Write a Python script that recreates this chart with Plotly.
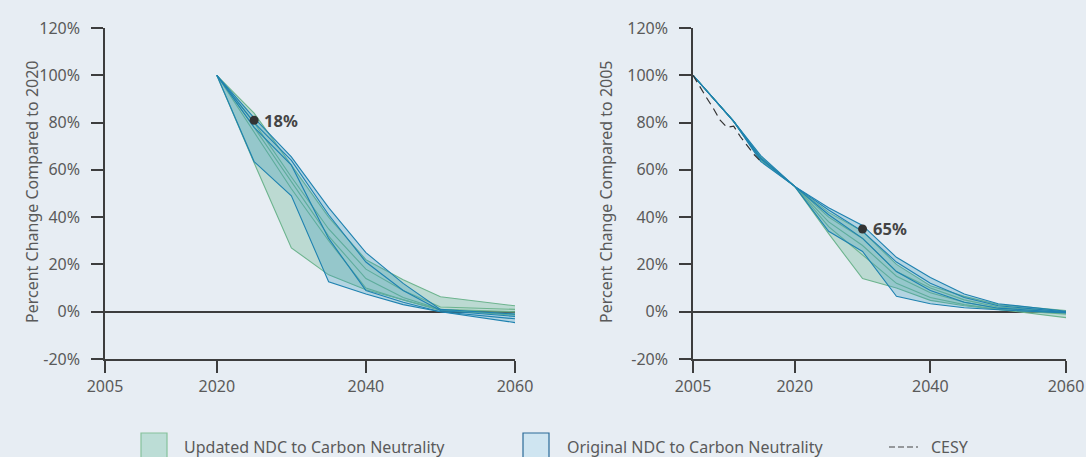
import numpy as np
import plotly.graph_objects as go

# ---------------- data ----------------
# Left panel: percent of 2020 emissions
years_left = [2020, 2025, 2030, 2035, 2040, 2045, 2050, 2060]
updated_left_1 = [100, 84, 62, 40, 22, 13.5, 6.3, 2.5]
updated_left_2 = [100, 80, 57, 35, 18, 9, 2, 1]
updated_left_3 = [100, 78, 55, 32, 14, 6, 1, 0]
updated_left_4 = [100, 76, 52, 30, 10, 5, 0.5, -1]
updated_left_5 = [100, 63, 27, 15.6, 9.3, 5, 0.8, -1.5]
original_left_1 = [100, 82, 65.5, 44, 25, 12, 1, -1]
original_left_2 = [100, 80, 64, 41, 21, 9, 0.5, -2]
original_left_3 = [100, 78, 62, 31, 9, 4, 0, -3]
original_left_4 = [100, 63.5, 49, 12.7, 7.5, 3, 0, -4.6]

# Right panel: percent of 2005 emissions
years_right = [2005, 2011, 2015, 2020, 2025, 2030, 2035, 2040, 2045, 2050, 2060]
updated_right_1 = [100, 80.5, 65.5, 53, 42, 34, 20, 11, 6.5, 3, 0.5]
updated_right_2 = [100, 80.5, 65, 53, 40, 31, 17, 10, 5, 2, 0]
updated_right_3 = [100, 80.5, 64.5, 53, 38, 28, 15, 8, 4, 1.5, -0.5]
updated_right_4 = [100, 80.5, 64, 53, 36, 24, 12, 6, 3, 1, -1]
updated_right_5 = [100, 80.5, 64, 53, 33, 14, 10, 4.8, 2.5, 1, -2.5]
original_right_1 = [100, 80.5, 66, 53, 44, 36.5, 23, 14.5, 7.5, 3.4, 0.2]
original_right_2 = [100, 80.5, 65, 53, 43, 34, 21, 12, 6, 2.5, 0]
original_right_3 = [100, 80.5, 64.5, 53, 41, 31, 17, 9, 4, 1.5, -0.3]
original_right_4 = [100, 80.5, 63.5, 53, 34, 25.5, 6.5, 3.4, 1.7, 0.8, -0.5]

cesy_years = [2005, 2006, 2007, 2008, 2009, 2010, 2011, 2012, 2013, 2014, 2015]
cesy_values = [100, 95, 90.5, 86, 81, 78, 78.5, 74, 70, 66.5, 63.5]

marker_left = (2025, 81, "18%")
marker_right = (2030, 35, "65%")

x_ticks = [2005, 2020, 2040, 2060]
y_ticks = [-20, 0, 20, 40, 60, 80, 100, 120]
y_tick_text = [f"{v}%" for v in y_ticks]

legend_labels = ["Updated NDC to Carbon Neutrality", "Original NDC to Carbon Neutrality", "CESY"]
y_titles = ["Percent Change Compared to 2020", "Percent Change Compared to 2005"]

# ---------------- style ----------------
BG = "#e7edf3"
GREEN_LINE = "#6db48e"
BLUE_LINE = "#1f82b0"
GREEN_FILL = "rgba(118,186,158,0.38)"
BLUE_FILL = "rgba(60,155,190,0.30)"
AXIS = "#3d3d3d"
TEXT = "#5a5a5a"
FONT = "Noto Sans"

fig = go.Figure()


def add_group(years, lines, fill, line_color, xa, ya):
    arr = np.array(lines, dtype=float)
    upper = arr.max(axis=0)
    lower = arr.min(axis=0)
    fig.add_trace(go.Scatter(x=years, y=upper, mode="lines", line=dict(width=0),
                             hoverinfo="skip", showlegend=False, xaxis=xa, yaxis=ya))
    fig.add_trace(go.Scatter(x=years, y=lower, mode="lines", line=dict(width=0),
                             fill="tonexty", fillcolor=fill,
                             hoverinfo="skip", showlegend=False, xaxis=xa, yaxis=ya))
    for ln in lines:
        fig.add_trace(go.Scatter(x=years, y=ln, mode="lines",
                                 line=dict(color=line_color, width=1.1),
                                 showlegend=False, xaxis=xa, yaxis=ya))


upd_left = [updated_left_1, updated_left_2, updated_left_3, updated_left_4, updated_left_5]
orig_left = [original_left_1, original_left_2, original_left_3, original_left_4]
upd_right = [updated_right_1, updated_right_2, updated_right_3, updated_right_4, updated_right_5]
orig_right = [original_right_1, original_right_2, original_right_3, original_right_4]

add_group(years_left, upd_left, GREEN_FILL, GREEN_LINE, "x", "y")
add_group(years_left, orig_left, BLUE_FILL, BLUE_LINE, "x", "y")
add_group(years_right, upd_right, GREEN_FILL, GREEN_LINE, "x2", "y2")
add_group(years_right, orig_right, BLUE_FILL, BLUE_LINE, "x2", "y2")

fig.add_trace(go.Scatter(x=cesy_years, y=cesy_values, mode="lines",
                         line=dict(color="#333333", width=1.2, dash="8px,5px"),
                         showlegend=False, xaxis="x2", yaxis="y2"))

for (mx, my, mt), xa, ya in [(marker_left, "x", "y"), (marker_right, "x2", "y2")]:
    fig.add_trace(go.Scatter(x=[mx], y=[my], mode="markers",
                             marker=dict(color="#333333", size=9),
                             showlegend=False, xaxis=xa, yaxis=ya))
    fig.add_annotation(x=mx, y=my, xref=xa, yref=ya, text=f"<b>{mt}</b>",
                       showarrow=False, xanchor="left", xshift=8,
                       font=dict(family=FONT, size=16.5, color="#444444"))

W, H = 1086, 457
ydom = [1 - 359 / H, 1 - 28 / H]

axis_common = dict(
    showline=True, linecolor=AXIS, linewidth=1.5,
    ticks="outside", ticklen=12, tickwidth=1.5, tickcolor=AXIS,
    showgrid=False, automargin=False,
    tickfont=dict(family=FONT, size=16, color=TEXT),
)

fig.update_layout(
    width=W, height=H,
    paper_bgcolor=BG, plot_bgcolor=BG,
    margin=dict(l=0, r=0, t=0, b=0, pad=0, autoexpand=False),
    showlegend=False,
    xaxis=dict(domain=[105 / W, 515 / W], range=[2005, 2060], tickvals=x_ticks,
               anchor="y", zeroline=False, **axis_common),
    yaxis=dict(domain=ydom, range=[-20, 120], tickvals=y_ticks, ticktext=y_tick_text,
               anchor="x", zeroline=True, zerolinecolor=AXIS, zerolinewidth=1.5,
               ticklabelstandoff=8, **axis_common),
    xaxis2=dict(domain=[693 / W, 1066 / W], range=[2005, 2060], tickvals=x_ticks,
                anchor="y2", zeroline=False, **axis_common),
    yaxis2=dict(domain=ydom, range=[-20, 120], tickvals=y_ticks, ticktext=y_tick_text,
                anchor="x2", zeroline=True, zerolinecolor=AXIS, zerolinewidth=1.5,
                ticklabelstandoff=8, **axis_common),
)

# y-axis titles
for xpx, t in [(19, y_titles[0]), (606, y_titles[1])]:
    fig.add_annotation(x=xpx / W, y=1 - 192 / H, xref="paper", yref="paper",
                       text=t, textangle=-90, showarrow=False,
                       font=dict(family=FONT, size=16, color=TEXT))


def px_x(v):
    return v / W


def px_y(v):
    return 1 - v / H


# legend (drawn manually)
fig.add_shape(type="rect", xref="paper", yref="paper",
              x0=px_x(141), x1=px_x(167), y0=px_y(460), y1=px_y(433),
              fillcolor="#bcddd6", line=dict(color="#86c29c", width=1.2))
fig.add_shape(type="rect", xref="paper", yref="paper",
              x0=px_x(523), x1=px_x(549), y0=px_y(460), y1=px_y(433),
              fillcolor="#cfe5f1", line=dict(color="#2a6a98", width=1.2))
fig.add_shape(type="line", xref="paper", yref="paper",
              x0=px_x(889), x1=px_x(918), y0=px_y(447), y1=px_y(447),
              line=dict(color="#444444", width=1.2, dash="6px,3px"))

for xpx, t in [(182, legend_labels[0]), (565, legend_labels[1]), (929, legend_labels[2])]:
    fig.add_annotation(x=px_x(xpx), y=px_y(447), xref="paper", yref="paper",
                       text=t, showarrow=False, xanchor="left", yanchor="middle",
                       font=dict(family=FONT, size=16, color=TEXT))

fig.write_html("out.html", config={"responsive": False, "displayModeBar": False},
               post_script="document.body.style.margin='0';document.body.style.overflow='hidden';")
